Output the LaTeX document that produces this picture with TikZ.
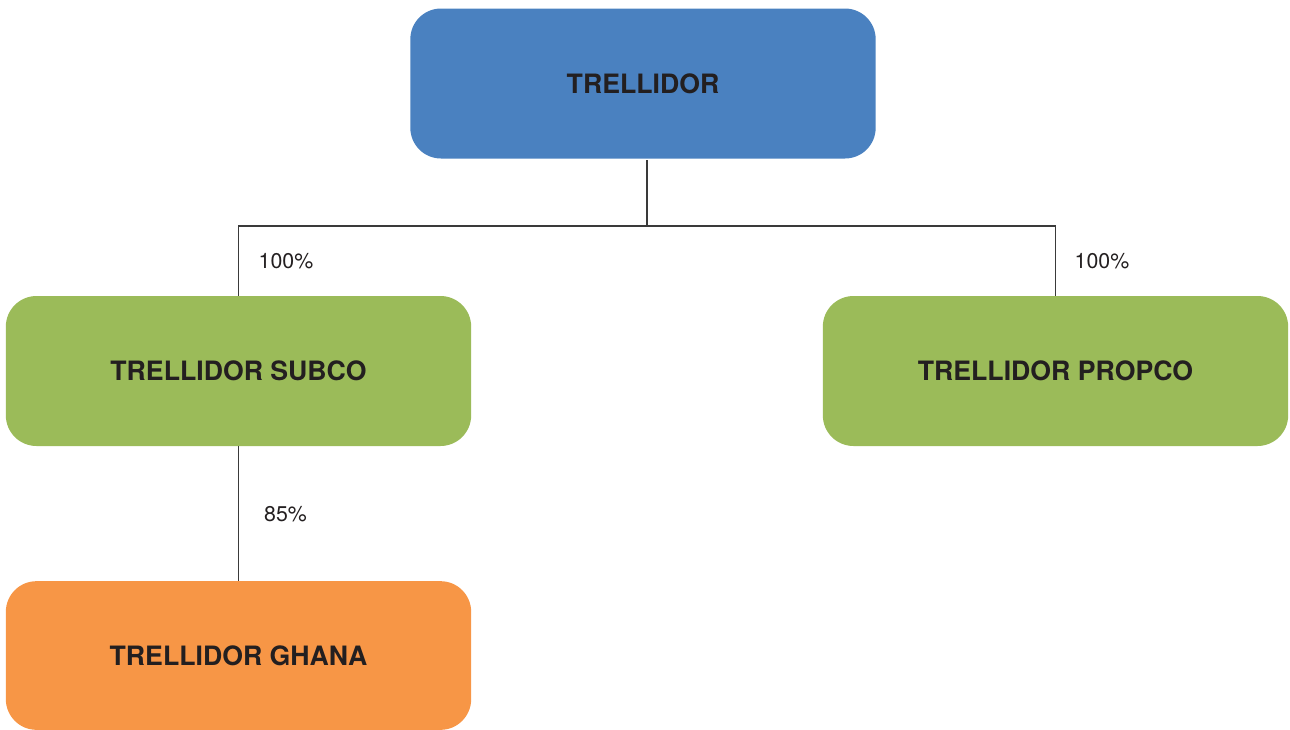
\documentclass[tikz,border=0pt]{standalone}
\usepackage{fontspec}
\setmainfont{TeX Gyre Heros}
\definecolor{boxblue}{HTML}{4A81C0}
\definecolor{boxgreen}{HTML}{9BBB59}
\definecolor{boxorange}{HTML}{F79646}
\definecolor{txt}{HTML}{231F20}
\definecolor{linec}{HTML}{3A3A3A}
\begin{document}
\begin{tikzpicture}[x=0.75pt,y=-0.75pt,
  orgbox/.style={rounded corners=23pt,draw=none,minimum width=349pt,minimum height=112.5pt,
    font=\fontsize{20pt}{22pt}\selectfont\bfseries,text=txt,inner sep=0pt},
  pct/.style={font=\fontsize{16pt}{18pt}\selectfont,text=txt,inner sep=0pt},
  conn/.style={draw=linec,line width=0.9pt}]
\useasboundingbox (0,0) rectangle (1290,729);
\node[orgbox,fill=boxblue,minimum height=112.5pt] (top) at (643,83.5) {TRELLIDOR};
\node[orgbox,fill=boxgreen] (subco) at (238.5,371) {TRELLIDOR SUBCO};
\node[orgbox,fill=boxorange,minimum height=111.5pt] (ghana) at (238.5,655.5) {\raisebox{-1.5pt}{TRELLIDOR GHANA}};
\node[orgbox,fill=boxgreen] (propco) at (1055.5,371) {TRELLIDOR PROPCO};
\coordinate (j) at (647,226);
\draw[conn] (647,160) -- (j);
\draw[conn] (subco.north) |- (j) -| (propco.north);
\draw[conn] (subco.south) -- (ghana.north);
\node[pct] (p1) at (286,261) {100\%};
\node[pct] (p2) at (1102,261) {100\%};
\node[pct] (p3) at (285.5,514) {85\%};
\end{tikzpicture}
\end{document}
